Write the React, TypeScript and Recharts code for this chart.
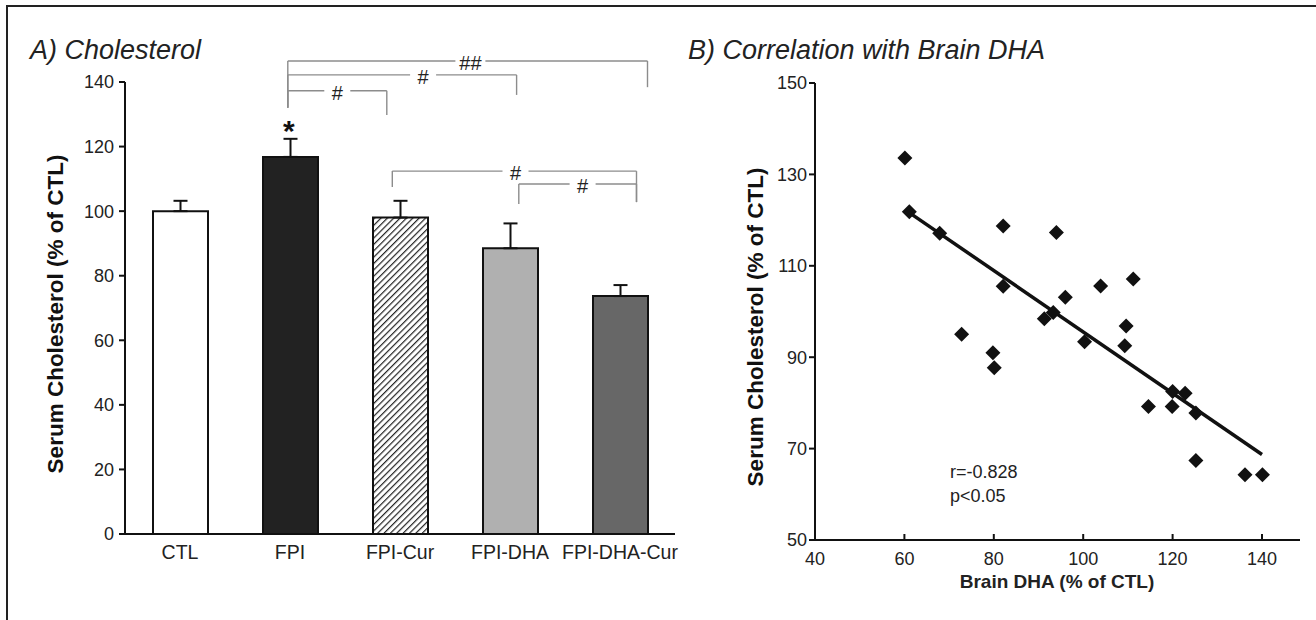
import React from 'react';
import {
  BarChart,
  Bar,
  Cell,
  XAxis,
  YAxis,
  ErrorBar,
  ReferenceLine,
  ReferenceDot,
  ScatterChart,
  Scatter,
} from 'recharts';

const FONT = '"Liberation Sans", Arial, sans-serif';

// A) serum cholesterol by group
const groups = ['CTL', 'FPI', 'FPI-Cur', 'FPI-DHA', 'FPI-DHA-Cur'];
const cholesterolPct = [100, 116.8, 98, 88.5, 73.7];
const cholesterolSem = [3.2, 5.6, 5.2, 7.7, 3.4];
const barFills = ['#ffffff', '#222222', 'url(#hatch)', '#b0b0b0', '#676767'];
const cholesterolTicks = [0, 20, 40, 60, 80, 100, 120, 140];

// significance brackets: x in bar slots (0..5), y in % of CTL
const bracketLabels = ['##', '#', '#', '#', '#'];
const bracketFrom = [1.48, 1.48, 1.48, 2.43, 3.58];
const bracketTo = [4.75, 3.56, 2.38, 4.65, 4.65];
const bracketLevel = [146.5, 142.2, 137.3, 112.4, 108.4];
const bracketFromDrop = [132.0, 132.0, 132.0, 107.5, 102.2];
const bracketToDrop = [138.4, 136.0, 129.8, 102.8, 102.8];
const bracketLabelAt = [3.14, 2.71, 1.93, 3.55, 4.16];
const starAt = { x: 1.49, y: 127 };

// B) correlation with brain DHA
const brainDha = [
  60.1, 61.1, 67.9, 82.1, 94.0, 82.1, 96.0, 103.9, 111.2, 91.3, 93.3, 109.6, 72.8,
  79.8, 80.1, 100.3, 109.3, 114.6, 119.9, 120.0, 122.8, 125.2, 125.2, 136.2, 140.1,
];
const serumChol = [
  133.6, 121.8, 117.1, 118.7, 117.3, 105.5, 103.1, 105.6, 107.1, 98.4, 99.8, 96.8, 95.0,
  91.0, 87.7, 93.4, 92.5, 79.2, 79.2, 82.5, 82.1, 77.8, 67.4, 64.3, 64.3,
];
const fitDha = [61, 140];
const fitChol = [121.7, 68.7];
const dhaTicks = [40, 60, 80, 100, 120, 140];
const serumTicks = [50, 70, 90, 110, 130, 150];

const barRows = groups.map((g, i) => ({
  group: g,
  value: cholesterolPct[i],
  err: [0, cholesterolSem[i]],
}));
const tagRows = bracketLabels.map((t, i) => ({ x: bracketLabelAt[i], y: bracketLevel[i], t }));
const points = brainDha.map((x, i) => ({ x, y: serumChol[i] }));

// overlay plot for the annotations: same scale as the bars, taller top
const BAR_TOP = 82;
const BAR_BOTTOM = 534;
const ANNO_MAX = 153;
const annoTopMargin = BAR_BOTTOM - ((BAR_BOTTOM - BAR_TOP) * ANNO_MAX) / 140;

const Diamond = (p: any) => {
  const { cx, cy } = p;
  if (cx == null || cy == null) return null;
  const r = 7.5;
  return (
    <polygon
      points={`${cx},${cy - r} ${cx + r},${cy} ${cx},${cy + r} ${cx - r},${cy}`}
      fill="#111"
    />
  );
};

const TagShape = (p: any) => {
  const text = p.payload?.t ?? '#';
  const w = text.length > 1 ? 30 : 26;
  return (
    <g>
      <rect x={p.cx - w / 2} y={p.cy - 9} width={w} height={19} fill="#fff" />
      <text x={p.cx} y={p.cy + 9} textAnchor="middle" fontSize={20} fontFamily={FONT} fill="#222">
        {text}
      </text>
    </g>
  );
};

const StarShape = (p: any) => (
  <text x={p.cx} y={p.cy + 17} textAnchor="middle" fontSize={30} fontWeight="bold" fontFamily={FONT} fill="#111">
    *
  </text>
);

const noteShape = (text: string) => (p: any) => (
  <text x={p.cx} y={p.cy + 6} textAnchor="start" fontSize={18} fontFamily={FONT} fill="#222">
    {text}
  </text>
);

const InwardTick = (p: any) => {
  const { x, y, payload } = p;
  return (
    <g>
      <line x1={x} y1={y} x2={x} y2={y - 6} stroke="#111" strokeWidth={2} />
      <text x={x} y={y + 25} textAnchor="middle" fontSize={18} fontFamily={FONT} fill="#222">
        {payload.value}
      </text>
    </g>
  );
};

const titleStyle = (left: number): React.CSSProperties => ({
  position: 'absolute',
  left,
  top: 36,
  fontSize: 27,
  fontStyle: 'italic',
  lineHeight: '28px',
  color: '#222',
  whiteSpace: 'nowrap',
});

const vLabel = (cx: number, cy: number): React.CSSProperties => ({
  position: 'absolute',
  left: cx,
  top: cy,
  transform: 'translate(-50%, -50%) rotate(-90deg)',
  fontSize: 22.5,
  fontWeight: 'bold',
  color: '#111',
  whiteSpace: 'nowrap',
});

export default function App() {
  const axisStroke = { stroke: '#111', strokeWidth: 2 };
  const bracketStroke = '#8c8c8c';
  return (
    <div
      style={{
        position: 'absolute',
        left: 0,
        top: 0,
        width: 1316,
        height: 620,
        background: '#fff',
        overflow: 'hidden',
        fontFamily: FONT,
      }}
    >
      <div
        style={{
          position: 'absolute',
          left: 6,
          top: 5,
          width: 1330,
          height: 640,
          borderTop: '2px solid #222',
          borderLeft: '2px solid #222',
        }}
      />
      <div style={titleStyle(30)}>A) Cholesterol</div>
      <div style={titleStyle(688)}>B) Correlation with Brain DHA</div>

      <div style={{ position: 'absolute', left: 0, top: 0 }}>
        <BarChart
          width={690}
          height={620}
          data={barRows}
          margin={{ top: BAR_TOP, right: 15, bottom: 56, left: 65 }}
        >
          <defs>
            <pattern
              id="hatch"
              patternUnits="userSpaceOnUse"
              width={4.5}
              height={4.5}
              patternTransform="rotate(45)"
            >
              <rect width={4.5} height={4.5} fill="#fff" />
              <line x1={0} y1={0} x2={0} y2={4.5} stroke="#222" strokeWidth={2.4} />
            </pattern>
          </defs>
          <XAxis
            dataKey="group"
            height={30}
            tickLine={false}
            axisLine={axisStroke}
            tickMargin={5}
            tick={{ fontSize: 19.5, fill: '#222', fontFamily: FONT }}
            interval={0}
          />
          <YAxis
            width={60}
            domain={[0, 140]}
            ticks={cholesterolTicks}
            interval={0}
            tickSize={6}
            tickMargin={5}
            tickLine={axisStroke}
            axisLine={axisStroke}
            tick={{ fontSize: 18, fill: '#222', fontFamily: FONT }}
          />
          <Bar dataKey="value" barSize={55} stroke="#111" strokeWidth={2} isAnimationActive={false}>
            {barRows.map((r, i) => (
              <Cell key={r.group} fill={barFills[i]} />
            ))}
            <ErrorBar dataKey="err" direction="y" width={7} stroke="#111" strokeWidth={2} />
          </Bar>
        </BarChart>
      </div>

      {/* significance annotations on the same plot area, numeric slot axis */}
      <div style={{ position: 'absolute', left: 0, top: 0, pointerEvents: 'none' }}>
        <ScatterChart
          width={690}
          height={620}
          margin={{ top: annoTopMargin, right: 15, bottom: 620 - BAR_BOTTOM, left: 125 }}
        >
          <XAxis type="number" dataKey="x" domain={[0, 5]} hide />
          <YAxis type="number" dataKey="y" domain={[0, ANNO_MAX]} hide />
          {bracketLabels.map((_, i) => (
            <ReferenceLine
              key={`h${i}`}
              stroke={bracketStroke}
              strokeWidth={1.4}
              segment={[
                { x: bracketFrom[i], y: bracketLevel[i] },
                { x: bracketTo[i], y: bracketLevel[i] },
              ]}
            />
          ))}
          {bracketLabels.map((_, i) => (
            <ReferenceLine
              key={`l${i}`}
              stroke={bracketStroke}
              strokeWidth={1.4}
              segment={[
                { x: bracketFrom[i], y: bracketLevel[i] },
                { x: bracketFrom[i], y: bracketFromDrop[i] },
              ]}
            />
          ))}
          {bracketLabels.map((_, i) => (
            <ReferenceLine
              key={`r${i}`}
              stroke={bracketStroke}
              strokeWidth={1.4}
              segment={[
                { x: bracketTo[i], y: bracketLevel[i] },
                { x: bracketTo[i], y: bracketToDrop[i] },
              ]}
            />
          ))}
          <Scatter data={tagRows} shape={TagShape} isAnimationActive={false} />
          <Scatter data={[starAt]} shape={StarShape} isAnimationActive={false} />
        </ScatterChart>
      </div>

      <div style={{ position: 'absolute', left: 680, top: 0 }}>
        <ScatterChart
          width={636}
          height={620}
          margin={{ top: 83, right: 16, bottom: 50, left: 85 }}
        >
          <XAxis
            type="number"
            dataKey="x"
            domain={[40, 148.5]}
            ticks={dhaTicks}
            interval={0}
            height={30}
            tickSize={0}
            tickMargin={0}
            tickLine={false}
            axisLine={axisStroke}
            tick={<InwardTick />}
          />
          <YAxis
            type="number"
            dataKey="y"
            width={50}
            domain={[50, 150]}
            ticks={serumTicks}
            interval={0}
            tickSize={6}
            tickLine={axisStroke}
            axisLine={axisStroke}
            tick={{ fontSize: 18, fill: '#222', fontFamily: FONT }}
          />
          <ReferenceLine
            stroke="#111"
            strokeWidth={3.5}
            segment={[
              { x: fitDha[0], y: fitChol[0] },
              { x: fitDha[1], y: fitChol[1] },
            ]}
          />
          <Scatter data={points} shape={Diamond} isAnimationActive={false} />
          <ReferenceDot x={70.2} y={64.9} ifOverflow="visible" shape={noteShape('r=-0.828')} />
          <ReferenceDot x={70.2} y={59.6} ifOverflow="visible" shape={noteShape('p<0.05')} />
        </ScatterChart>
      </div>

      <div style={vLabel(56, 314)}>Serum Cholesterol (% of CTL)</div>
      <div style={vLabel(756, 327)}>Serum Cholesterol (% of CTL)</div>
      <div
        style={{
          position: 'absolute',
          left: 1057,
          top: 582,
          transform: 'translate(-50%, -50%)',
          fontSize: 19,
          fontWeight: 'bold',
          color: '#222',
          whiteSpace: 'nowrap',
        }}
      >
        Brain DHA (% of CTL)
      </div>
    </div>
  );
}
